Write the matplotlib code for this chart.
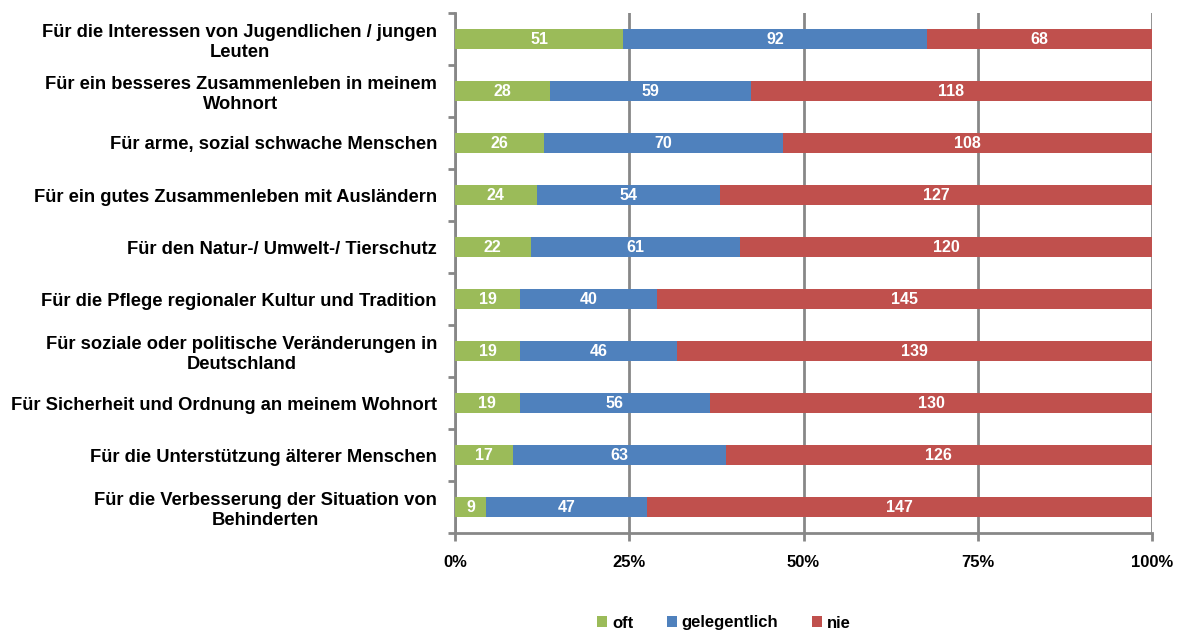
import matplotlib
matplotlib.use("Agg")
import matplotlib.pyplot as plt
import numpy as np
from matplotlib.ticker import FixedLocator, PercentFormatter

plt.rcParams['font.family'] = ['Liberation Sans', 'DejaVu Sans']

categories = [
    "Für die Interessen von Jugendlichen / jungen\nLeuten",
    "Für ein besseres Zusammenleben in meinem\nWohnort",
    "Für arme, sozial schwache Menschen",
    "Für ein gutes Zusammenleben mit Ausländern",
    "Für den Natur-/ Umwelt-/ Tierschutz",
    "Für die Pflege regionaler Kultur und Tradition",
    "Für soziale oder politische Veränderungen in\nDeutschland",
    "Für Sicherheit und Ordnung an meinem Wohnort",
    "Für die Unterstützung älterer Menschen",
    "Für die Verbesserung der Situation von\nBehinderten",
]
oft = [51, 28, 26, 24, 22, 19, 19, 19, 17, 9]
gelegentlich = [92, 59, 70, 54, 61, 40, 46, 56, 63, 47]
nie = [68, 118, 108, 127, 120, 145, 139, 130, 126, 147]
series_names = ["oft", "gelegentlich", "nie"]
colors = ["#9BBB59", "#4F81BD", "#C0504D"]
xticks = [0, 25, 50, 75, 100]

fig = plt.figure(figsize=(11.81, 6.30), dpi=100)
ax = fig.add_axes([455/1181, 1-533/630, (1152-455)/1181, (533-13)/630])

data = np.array([oft, gelegentlich, nie], dtype=float)
totals = data.sum(axis=0)
pct = data / totals * 100
n = len(categories)
y = np.arange(n)[::-1]

left = np.zeros(n)
for i, name in enumerate(series_names):
    ax.barh(y, pct[i], left=left, height=0.39, color=colors[i], label=name, zorder=3)
    for j in range(n):
        ax.text(left[j] + pct[i][j] / 2, y[j], f"{int(data[i][j])}", ha='center', va='center',
                color='white', fontsize=11.5, fontweight='bold', zorder=4)
    left += pct[i]

ax.set_xlim(0, 100)
ax.set_ylim(-0.5, n - 0.5)
ax.set_xticks(xticks)
ax.xaxis.set_major_formatter(PercentFormatter(decimals=0))
ax.set_yticks(y)
ax.set_yticklabels(categories)
ax.yaxis.set_minor_locator(FixedLocator(np.arange(n + 1) - 0.5))
ax.tick_params(axis='y', which='major', length=0, pad=13)
ax.tick_params(axis='y', which='minor', length=5, width=2, color='#878787', direction='out')
ax.tick_params(axis='x', which='major', length=6, width=2, color='#878787', direction='out', pad=10)
for lbl in ax.get_yticklabels():
    lbl.set_fontsize(13.2)
    lbl.set_fontweight('bold')
    lbl.set_multialignment('center')
    lbl.set_linespacing(1.25)
for lbl in ax.get_xticklabels():
    lbl.set_fontsize(12)
    lbl.set_fontweight('bold')

ax.grid(axis='x', color='#878787', linewidth=2, zorder=0)
for s in ['top', 'right']:
    ax.spines[s].set_visible(False)
for s in ['left', 'bottom']:
    ax.spines[s].set_color('#878787')
    ax.spines[s].set_linewidth(2)

leg = fig.legend(loc='center', bbox_to_anchor=(724/1181, 1-623/630), ncol=3, frameon=False,
                 handlelength=0.6, handleheight=0.6, handletextpad=0.3, columnspacing=2.0,
                 prop={'weight': 'bold', 'size': 12})

fig.savefig("out.png", dpi=100)
